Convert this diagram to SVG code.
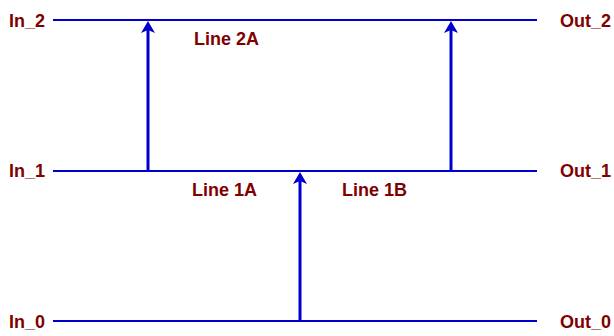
<svg xmlns="http://www.w3.org/2000/svg" width="614" height="336" viewBox="0 0 614 336">
  <style>
    .bus { stroke: #0000cc; stroke-width: 2; fill: none; }
    .conn { stroke: #0000cc; stroke-width: 3; fill: none; }
    .lbl { font-family: "Liberation Sans", Arial, sans-serif; font-weight: bold; font-size: 18px; fill: #800000; }
  </style>
  <defs>
    <marker id="arr" markerUnits="userSpaceOnUse" markerWidth="14" markerHeight="16" viewBox="0 -8 14 16" refX="3" refY="0" orient="auto">
      <path d="M0,-7 L12,0 L0,7 L3,0 Z" fill="#0000cc"/>
    </marker>
  </defs>
  <rect width="614" height="336" fill="#ffffff"/>
  <g id="line2">
    <text class="lbl" x="9" y="27">In_2</text>
    <line class="bus" x1="53" y1="20" x2="537" y2="20"/>
    <text class="lbl" x="560" y="27">Out_2</text>
    <text class="lbl" x="194" y="45">Line 2A</text>
  </g>
  <g id="line1">
    <text class="lbl" x="9" y="177">In_1</text>
    <line class="bus" x1="53" y1="171" x2="537" y2="171"/>
    <text class="lbl" x="560" y="177">Out_1</text>
    <text class="lbl" x="192" y="196">Line 1A</text>
    <text class="lbl" x="342" y="196">Line 1B</text>
  </g>
  <g id="line0">
    <text class="lbl" x="9" y="328">In_0</text>
    <line class="bus" x1="53" y1="321" x2="537" y2="321"/>
    <text class="lbl" x="560" y="328">Out_0</text>
  </g>
  <g id="connectors">
    <line class="conn" x1="148" y1="171" x2="148" y2="30" marker-end="url(#arr)"/>
    <line class="conn" x1="451" y1="171" x2="451" y2="30" marker-end="url(#arr)"/>
    <line class="conn" x1="300" y1="321" x2="300" y2="181" marker-end="url(#arr)"/>
  </g>
</svg>
